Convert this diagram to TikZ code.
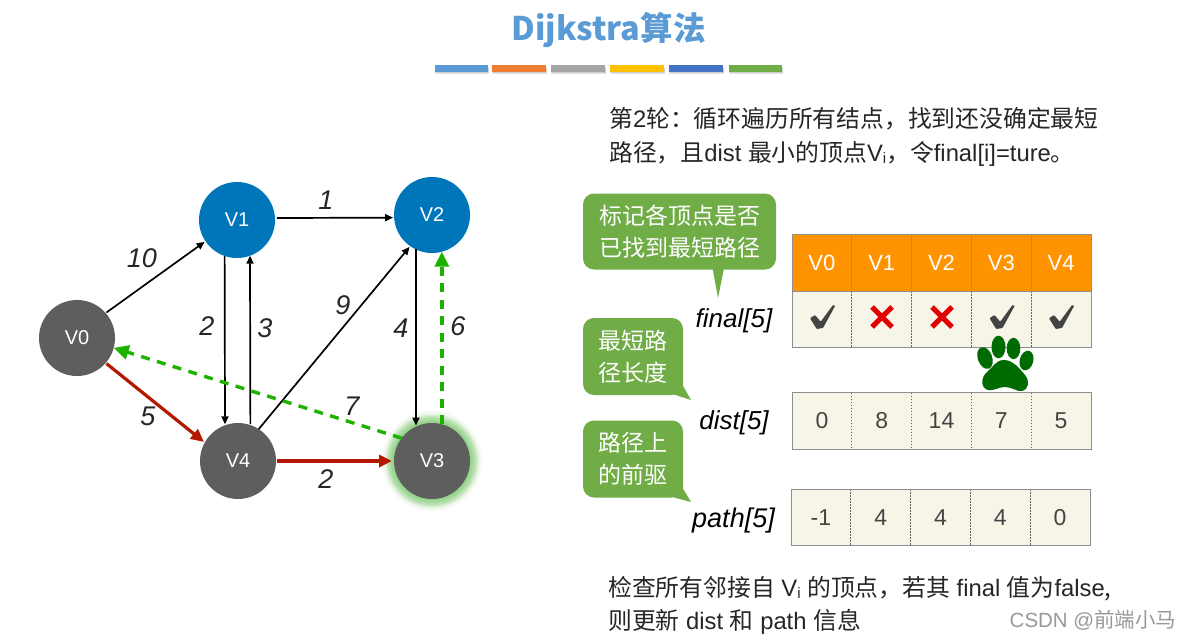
\documentclass[tikz,border=0pt]{standalone}
\usepackage{fontspec}
\setmainfont{Liberation Sans}
\newfontfamily\cjk{Noto Sans CJK SC}
\usetikzlibrary{arrows.meta}
\definecolor{titleblue}{HTML}{5B9BD5}
\definecolor{baro}{HTML}{ED7D31}
\definecolor{barg}{HTML}{A5A5A5}
\definecolor{bary}{HTML}{FFC000}
\definecolor{barb}{HTML}{4472C4}
\definecolor{bubblegreen}{HTML}{70AD47}
\definecolor{vgray}{HTML}{5E5E5E}
\definecolor{vblue}{HTML}{0076BA}
\definecolor{hdr}{HTML}{FF9300}
\definecolor{cellbg}{HTML}{F7F4E8}
\definecolor{rule}{HTML}{8F8F8F}
\definecolor{edgered}{HTML}{B51700}
\definecolor{edgegreen}{HTML}{1DB100}
\definecolor{glowgreen}{HTML}{5CC84A}
\definecolor{pawgreen}{HTML}{006B00}
\definecolor{chk}{HTML}{444444}
\definecolor{xred}{HTML}{E30000}
\newcommand{\fs}[1]{\fontsize{#1}{#1}\selectfont}
\newcommand{\sbi}{\raisebox{-2pt}{\fs{15}i}}
\tikzset{
  x=1pt,y=-1pt,
  bar/.style={minimum width=#1,minimum height=7,inner sep=0,outer sep=0,anchor=north west},
  vert/.style={circle,minimum size=76,inner sep=0,outer sep=0,text=white,font=\fs{20}},
  plain/.style={-{Triangle[length=8,width=7]},line width=1.7,black},
  redge/.style={-{Triangle[length=13,width=12]},line width=3.2,edgered},
  gedge/.style={-{Triangle[length=15,width=14]},line width=3.4,edgegreen,dash pattern=on 9 off 7.5},
  wt/.style={font=\fs{27}\itshape,text=black!85,inner sep=0},
  arr/.style={font=\fs{26}\itshape,text=black,inner sep=0},
  para/.style={anchor=base west,inner sep=0,font=\fs{23.8},text=black!85},
  bubble/.style={fill=bubblegreen,rounded corners=11,inner sep=0,outer sep=0,text=white,align=center,font=\cjk\fs{23}},
  cell/.style={minimum width=59.8,minimum height=56.5,inner sep=0,outer sep=0,fill=cellbg,text=chk,font=\fs{23}},
  head/.style={minimum width=59.8,minimum height=57,inner sep=0,outer sep=0,fill=hdr,text=white,font=\fs{22}},
  tline/.style={rule,line width=1},
  tdash/.style={rule!70!black,line width=.7,dash pattern=on 1.5 off 1.5},
}
\newcommand{\checkmk}[1]{\fill[chk,rounded corners=.8,shift={(#1,0)}] (-12,318.3) -- (-7,315) -- (-1.3,321.7) -- (11,305) -- (13.2,305.7) -- (1,328) -- (-5.3,329) -- cycle;}
\newcommand{\crossmk}[1]{\draw[xred,line width=5,shift={(#1,317)}] (-10,-10) -- (10,10) (-10,10) -- (10,-10);}
\begin{document}
\begin{tikzpicture}
\useasboundingbox (0,0) rectangle (1186,640);
\fill[white] (0,0) rectangle (1186,640);
% title
\node[inner sep=0,text=titleblue,font=\cjk\bfseries\fs{32.5}] (title) at (608.5,30) {Dijkstra算法};
% colour bars
\foreach \nm/\xa/\w/\c in {b1/435/53/titleblue,b2/492/54/baro,b3/551/54/barg,b4/610/54/bary,b5/669/54/barb,b6/729/53/bubblegreen}{
  \fill[black,opacity=.1] (\xa,68) rectangle (\xa+\w+1,74);
  \fill[black,opacity=.1] (\xa+.5,68) rectangle (\xa+\w+.5,73);
  \node[bar=\w,fill=\c] (\nm) at (\xa,65) {};
}
% glow
\foreach \r in {51,50.5,50,49.5,49,48.5,48,47.5,47,46.5,46,45.5,45,44.5,44,43.5,43,42.5,42,41.5,41,40.5,40,39.5,39}{
  \fill[glowgreen,opacity=.012] (432,461) circle[radius=\r];
}
\foreach \r in {47,46.5,46,45.5,45,44.5,44,43.5,43,42.5,42,41.5,41,40.5,40,39.5,39}{
  \fill[glowgreen,opacity=.035] (432,461) circle[radius=\r];
}
% vertices
\node[vert,fill=vgray] (v0) at (77,338) {V0};
\node[vert,fill=vblue] (v1) at (237,220) {V1};
\node[vert,fill=vblue] (v2) at (432,215) {V2};
\node[vert,fill=vgray] (v3) at (432,461) {V3};
\node[vert,fill=vgray] (v4) at (238,461) {V4};
% edges
\draw[plain,shorten <=1,shorten >=1] (v0.41) -- (v1.214);
\draw[plain,shorten <=2,shorten >=1] (v1.3) -- (v2.184.5);
\draw[plain,shorten >=1] (v1.251.6) -- (v4.110);
\draw[plain,shorten <=1] (v4.71.6) -- (v1.290);
\draw[plain,shorten >=1] (v4.57) -- (v2.235);
\draw[plain,shorten >=1] (v2.245) -- (v3.115);
\draw[gedge] (v3.75) -- (v2.285);
\draw[redge,shorten <=1,shorten >=1] (v0.319) -- (v4.151);
\draw[redge,shorten <=1,shorten >=2] (v4.0) -- (v3.180);
\draw[gedge] (v3.143) -- (v0.345);
% weights
\node[wt] (w1) at (142,258) {10};
\node[wt] (w2) at (326,200) {1};
\node[wt] (w3) at (207,326) {2};
\node[wt] (w4) at (265,328) {3};
\node[wt] (w5) at (343,305) {9};
\node[wt] (w6) at (401,328) {4};
\node[wt] (w7) at (458,326) {6};
\node[wt] (w8) at (148,416) {5};
\node[wt] (w9) at (352,406) {7};
\node[wt] (w10) at (326,479) {2};
% paragraph text
\node[para] (p1) at (609,127) {{\cjk 第}2{\cjk 轮：循环遍历所有结点，找到还没确定最短}};
\node[para] (p2) at (609,161) {{\cjk 路径，且}dist {\cjk 最小的顶点}V\sbi{\cjk ，令}final[i]=ture{\cjk 。}};
\node[para] (p3) at (608,596) {{\cjk 检查所有邻接自} V\sbi{} {\cjk 的顶点，若其} final {\cjk 值为}false{\cjk ,}};
\node[para] (p4) at (608,629) {{\cjk 则更新} dist {\cjk 和} path {\cjk 信息}};
% bubbles
\node[bubble,minimum width=193,minimum height=76] (b-a) at (679.5,231.5) {标记各顶点是否\\[9pt]已找到最短路径};
\fill[bubblegreen] (712.5,268) -- (724,268) -- (718,298) -- cycle;
\node[bubble,minimum width=100,minimum height=77] (b-b) at (633,356.5) {最短路\\[9pt]径长度};
\fill[bubblegreen] (682,384) -- (674,394.5) -- (691,400) -- cycle;
\node[bubble,minimum width=100,minimum height=77] (b-c) at (633,459) {路径上\\[9pt]的前驱};
\fill[bubblegreen] (682,487) -- (674,497.5) -- (691,502) -- cycle;
% array names
\node[arr] (n1) at (734,320.5) {final[5]};
\node[arr] (n2) at (734,422.5) {dist[5]};
\node[arr,font=\fs{27}\itshape] (n3) at (733.5,520.5) {path[5]};
% table
\foreach \i/\t in {0/V0,1/V1,2/V2,3/V3,4/V4}{
  \node[head,anchor=north west] (h\i) at (792+59.8*\i,234) {\t};
  \node[cell,anchor=north west] (f\i) at (792+59.8*\i,291) {};
}
\foreach \i/\t in {0/0,1/8,2/14,3/7,4/5}{
  \node[cell,anchor=north west] (d\i) at (792+59.8*\i,392.5) {\raisebox{-1.5pt}{\t}};
}
\foreach \i/\t in {0/-1,1/4,2/4,3/4,4/0}{
  \node[cell,anchor=north west] (q\i) at (791+59.8*\i,489) {\raisebox{-1pt}{\t}};
}
\foreach \i in {0,1,2,3}{
  \draw[tline,line width=.8] (h\i.north east) -- (h\i.south east);
  \draw[tdash] (f\i.north east) -- (f\i.south east);
  \draw[tdash] (d\i.north east) -- (d\i.south east);
  \draw[tdash] (q\i.north east) -- (q\i.south east);
}
\draw[tline] (h0.north west) -- (h4.north east) -- (h4.south east) -- (f4.south east);
\draw[tline] (h0.north west) -- (f0.south west);
\draw[tline] (h0.south west) -- (h4.south east);
\draw[tline,line width=1.5] (f0.south west) -- (f4.south east);
\draw[tline] (d0.north west) rectangle (d4.south east);
\draw[tline] (q0.north west) rectangle (q4.south east);
% marks
\checkmk{822}
\crossmk{882}
\crossmk{942}
\checkmk{1001.5}
\checkmk{1061}
% paw
\fill[pawgreen] (1004,360) .. controls (996,360) and (993,367) .. (987,372) .. controls (981,377) and (980,388) .. (988,390) .. controls (993,391.5) and (998,387) .. (1005,387) .. controls (1012,387) and (1017,392) .. (1022,391) .. controls (1029,389) and (1030,381) .. (1025,375) .. controls (1020,369) and (1013,360) .. (1004,360) -- cycle;
\fill[pawgreen,rotate around={20:(985,358)}] (985,358) ellipse[x radius=7.2,y radius=11.3];
\fill[pawgreen] (998.5,347) ellipse[x radius=7,y radius=11.3];
\fill[pawgreen] (1013.5,348.5) ellipse[x radius=6.8,y radius=10.7];
\fill[pawgreen,rotate around={-15:(1026.5,360.5)}] (1026.5,360.5) ellipse[x radius=6.8,y radius=10];
% watermark
\node[inner sep=0,text=black!40,font=\fs{20.5}] (wm) at (1093,620) {CSDN @{\cjk 前端小马}};
\end{tikzpicture}
\end{document}
